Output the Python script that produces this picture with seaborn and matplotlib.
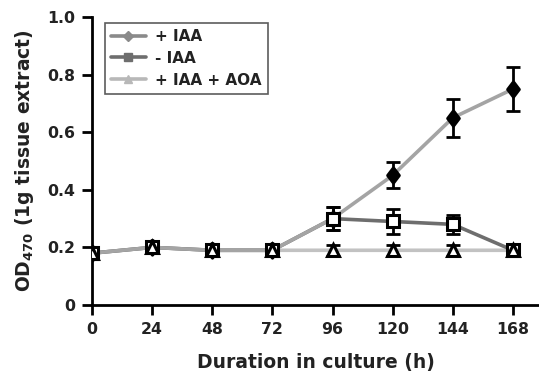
import numpy as np
import pandas as pd
import matplotlib
matplotlib.use("Agg")
import matplotlib.pyplot as plt
import seaborn as sns
from matplotlib.lines import Line2D

hours = [0, 24, 48, 72, 96, 120, 144, 168]
iaa = [0.18, 0.20, 0.19, 0.19, 0.30, 0.45, 0.65, 0.75]
iaa_err = [0.02, 0.02, 0.02, 0.02, 0.04, 0.045, 0.065, 0.077]
no_iaa = [0.18, 0.20, 0.19, 0.19, 0.30, 0.29, 0.28, 0.19]
no_iaa_err = [0.02, 0.02, 0.02, 0.02, 0.04, 0.042, 0.033, 0.02]
aoa = [0.18, 0.20, 0.19, 0.19, 0.19, 0.19, 0.19, 0.19]
aoa_err = [0.02, 0.02, 0.02, 0.02, 0.02, 0.02, 0.02, 0.02]
labels = ["+ IAA", "- IAA", "+ IAA + AOA"]
xticks = [0, 24, 48, 72, 96, 120, 144, 168]
yticks = [0, 0.2, 0.4, 0.6, 0.8, 1.0]
yticklabels = ["0", "0.2", "0.4", "0.6", "0.8", "1.0"]

sns.set_style("ticks")
plt.rcParams["font.family"] = ["DejaVu Sans"]
plt.rcParams["font.weight"] = "bold"
plt.rcParams["mathtext.fontset"] = "dejavusans"

line_colors = {"+ IAA": "#a4a4a4", "- IAA": "#6e6e6e", "+ IAA + AOA": "#c2c2c2"}
legend_colors = {"+ IAA": "#8a8a8a", "- IAA": "#6e6e6e", "+ IAA + AOA": "#b8b8b8"}

df = pd.DataFrame({
    "h": hours * 3,
    "od": iaa + no_iaa + aoa,
    "err": iaa_err + no_iaa_err + aoa_err,
    "series": [labels[0]] * 8 + [labels[1]] * 8 + [labels[2]] * 8,
})

fig = plt.figure(figsize=(5.39, 3.74), dpi=100)
ax = fig.add_axes([92 / 539, 69 / 374, 1 - 92 / 539, 288 / 374])

order = [labels[2], labels[1], labels[0]]
for s in order:
    sub = df[df.series == s]
    sns.lineplot(data=sub, x="h", y="od", color=line_colors[s], lw=2.6,
                 ax=ax, legend=False, zorder=2)

diamond = [(0, 1.25), (0.95, 0), (0, -1.25), (-0.95, 0), (0, 1.25)]
styles = {
    labels[0]: dict(marker=diamond, mfc="black", ms=11),
    labels[1]: dict(marker="s", mfc="white", ms=9),
    labels[2]: dict(marker="^", mfc="white", ms=9),
}
for s in [labels[0], labels[1], labels[2]]:
    sub = df[df.series == s]
    ax.errorbar(sub.h, sub.od, yerr=sub.err, fmt="none", ecolor="black",
                elinewidth=2, capsize=5, capthick=2, zorder=3)
    ax.plot(sub.h, sub.od, ls="none", mec="black", mew=2.2, zorder=4,
            **styles[s])

ax.set_xlim(0, 178.4)
ax.set_ylim(0, 1.0)
ax.set_xticks(xticks)
ax.set_yticks(yticks)
ax.set_yticklabels(yticklabels)
for sp in ["top", "right"]:
    ax.spines[sp].set_visible(False)
for sp in ["left", "bottom"]:
    ax.spines[sp].set_linewidth(2)
    ax.spines[sp].set_color("black")
ax.tick_params(axis="both", direction="out", length=7, width=2,
               labelsize=11.3, colors="black", labelcolor="#222222", pad=5)
for lab in ax.get_xticklabels() + ax.get_yticklabels():
    lab.set_fontweight("bold")

ax.set_xlabel("Duration in culture (h)", fontsize=13.5, fontweight="bold",
              color="#222222", labelpad=12)
ax.set_ylabel(r"OD$_{\mathbf{470}}$ (1g tissue extract)", fontsize=13.5,
              fontweight="bold", color="#222222", labelpad=8)

handles = [
    Line2D([0], [0], color=legend_colors[labels[0]], lw=2.6, marker="D", ms=5),
    Line2D([0], [0], color=legend_colors[labels[1]], lw=2.6, marker="s", ms=6),
    Line2D([0], [0], color=legend_colors[labels[2]], lw=2.6, marker="^", ms=6),
]
leg = ax.legend(handles, labels, loc="upper left", bbox_to_anchor=(0.028, 0.98),
                frameon=True, fancybox=False, edgecolor="#333333",
                prop={"weight": "bold", "size": 11}, handlelength=2.3,
                borderpad=0.4, labelspacing=0.45, handletextpad=0.6,
                borderaxespad=0.0)
leg.get_frame().set_linewidth(1.2)
for t in leg.get_texts():
    t.set_color("#222222")

fig.savefig("out.png", dpi=100)
